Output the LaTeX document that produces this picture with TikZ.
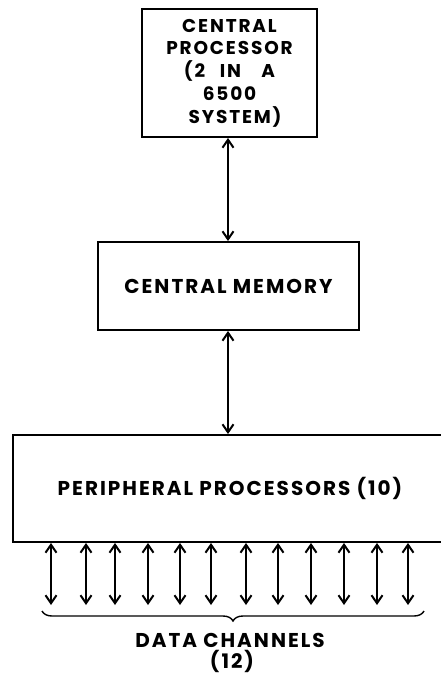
\documentclass[tikz,border=0pt]{standalone}
\usepackage{fontspec}
\setmainfont{Poppins}[LetterSpace=10]
\usetikzlibrary{arrows.meta,decorations.pathreplacing}
\begin{document}
\begin{tikzpicture}[x=1pt,y=-1pt,
  blk/.style={draw,line width=1.9pt,inner sep=0pt,font=\bfseries\fontsize{20}{23}\selectfont},
  barb/.tip={Straight Barb[length=8pt,width=11pt,line width=2pt]},
  link/.style={line width=2.2pt,barb-barb},
  lbl/.style={inner sep=0pt,font=\bfseries\fontsize{20}{23}\selectfont}]
\useasboundingbox (0,0) rectangle (441,674);
\node[blk,minimum width=175pt,minimum height=128pt,align=center,font=\bfseries\fontsize{18.5}{22.8}\selectfont] (cp) at (229.5,73)
  {CENTRAL\\PROCESSOR\\(2\hspace{0.8em}IN\hspace{1.1em}A\\6500\\\hspace*{0.6em}SYSTEM)};
\node[blk,minimum width=261pt,minimum height=88pt] (cm) at (228.5,286) {CENTRAL MEMORY};
\node[blk,minimum width=434pt,minimum height=107pt] (pp) at (230,488.5) {PERIPHERAL PROCESSORS (10)};
\draw[link] (cp.south -| 228,0) -- (cm.north -| 228,0);
\draw[link] (cm.south -| 228,0) -- (pp.north -| 228,0);
\foreach \i/\x in {1/51,2/86,3/115,4/148,5/180,6/211,7/246,8/278,9/311,10/344,11/377,12/408}{
  \coordinate (c\i) at (\x,605);
  \draw[link] (pp.south -| c\i) -- (c\i);
}
\coordinate (bl) at (42,611);
\coordinate (br) at (424,611);
\draw[line width=1.4pt,decorate,decoration={brace,mirror,amplitude=10pt}] (bl) -- (br);
\node[lbl] (dc) at (230,640) {DATA CHANNELS};
\node[lbl] (n12) at (232,661.5) {(12)};
\end{tikzpicture}
\end{document}
